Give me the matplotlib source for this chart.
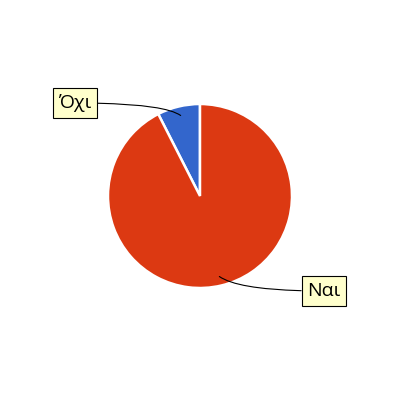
import matplotlib
matplotlib.use("Agg")
import matplotlib.pyplot as plt
import numpy as np

labels = ["Όχι", "Ναι"]
values = [7.5, 92.5]
colors = ["#3366CC", "#DC3912"]
label_pos = [(75, 297), (324, 109)]
end_angles = [-35, -35]

fig = plt.figure(figsize=(4, 4), dpi=100)
ax = fig.add_axes([0, 0, 1, 1])

center = (200, 204)
R = 92
wedges, _ = ax.pie(values, colors=colors, startangle=90, counterclock=True,
                   center=center, radius=R, frame=True,
                   wedgeprops=dict(edgecolor="white", linewidth=1.8))
ax.set_xlim(0, 400)
ax.set_ylim(0, 400)
ax.set_aspect("equal")
ax.axis("off")

for w, lab, pos, angB in zip(wedges, labels, label_pos, end_angles):
    mid = np.deg2rad((w.theta1 + w.theta2) / 2)
    px = center[0] + 0.9 * R * np.cos(mid)
    py = center[1] + 0.9 * R * np.sin(mid)
    ax.annotate(lab, xy=(px, py), xytext=pos, ha="center", va="center",
                fontsize=14, family=["Open Sans", "DejaVu Sans"],
                bbox=dict(boxstyle="square,pad=0.3", fc="#FFFFCC", ec="black", lw=0.8),
                arrowprops=dict(arrowstyle="-", color="black", lw=0.8,
                                connectionstyle=f"angle3,angleA=0,angleB={angB}",
                                shrinkA=0, shrinkB=0))

fig.savefig("out.png", dpi=100)
